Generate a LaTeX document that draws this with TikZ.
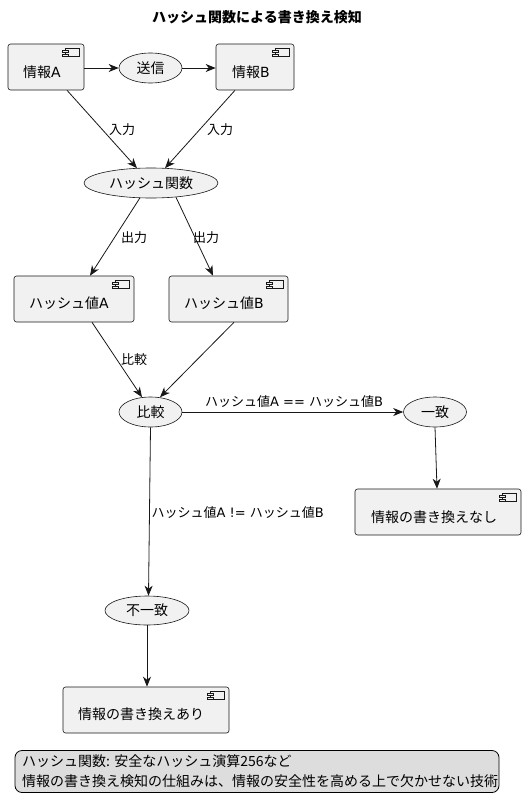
\documentclass[tikz,border=0pt]{standalone}
\usepackage{fontspec}
\setmainfont{DejaVu Sans}
\newfontfamily\jp{Noto Sans CJK JP}
\usetikzlibrary{shapes.geometric,arrows.meta,calc}
\definecolor{nodefill}{HTML}{F1F1F1}
\definecolor{linec}{HTML}{181818}
\definecolor{notefill}{HTML}{DDDDDD}
\tikzset{
  comp/.style={draw=linec,fill=nodefill,rectangle,rounded corners=2.5pt,line width=0.6pt,inner sep=0pt},
  uc/.style={draw=linec,fill=nodefill,ellipse,line width=0.6pt,inner sep=0pt},
  txt/.style={inner sep=0pt,font=\fontsize{14}{16}\selectfont,text=black},
  lbl/.style={inner sep=0pt,font=\fontsize{13}{15}\selectfont,text=black},
  arr/.style={draw=linec,line width=0.8pt,-{Stealth[length=10pt,width=8pt,inset=3pt]}},
}
\newcommand{\compicon}[1]{%
  \draw[linec,fill=nodefill,line width=0.5pt] ($(#1.north east)+(-19,5)$) rectangle ($(#1.north east)+(-5,13)$);
  \draw[linec,fill=nodefill,line width=0.5pt] ($(#1.north east)+(-22,7)$) rectangle ($(#1.north east)+(-16,9)$);
  \draw[linec,fill=nodefill,line width=0.5pt] ($(#1.north east)+(-22,10.5)$) rectangle ($(#1.north east)+(-16,12.5)$);
}
\begin{document}
\begin{tikzpicture}[x=1pt,y=-1pt]
\useasboundingbox[fill=white] (0,0) rectangle (526,811);
% title
\node[inner sep=0pt,font=\jp\bfseries\fontsize{14}{16}\selectfont] (title) at (257,17) {ハッシュ関数による書き換え検知};
% components
\node[comp,minimum width=76pt,minimum height=46pt] (infoA) at (46,67) {};
\node[txt] (infoAt) at (42,72) {{\jp 情報}A};
\node[comp,minimum width=78pt,minimum height=46pt] (infoB) at (255,67) {};
\node[txt] (infoBt) at (251,72) {{\jp 情報}B};
\node[comp,minimum width=120pt,minimum height=46pt] (hashA) at (74,299) {};
\node[txt] (hashAt) at (69,303) {{\jp ハッシュ値}A};
\node[comp,minimum width=119pt,minimum height=46pt] (hashB) at (228.5,299) {};
\node[txt] (hashBt) at (224,303) {{\jp ハッシュ値}B};
\node[comp,minimum width=166pt,minimum height=46pt] (nochg) at (438,512) {};
\node[txt,font=\jp\fontsize{14}{16}\selectfont] (nochgt) at (434,517) {情報の書き換えなし};
\node[comp,minimum width=166pt,minimum height=46pt] (chg) at (146,710) {};
\node[txt,font=\jp\fontsize{14}{16}\selectfont] (chgt) at (141,714) {情報の書き換えあり};
\compicon{infoA}
\compicon{infoB}
\compicon{hashA}
\compicon{hashB}
\compicon{nochg}
\compicon{chg}
% use cases
\node[uc,minimum width=63pt,minimum height=30pt] (send) at (150.5,68) {};
\node[txt,font=\jp\fontsize{14}{16}\selectfont] (sendt) at (150.5,68) {送信};
\node[uc,minimum width=134pt,minimum height=30pt] (hash) at (151,183) {};
\node[txt,font=\jp\fontsize{14}{16}\selectfont] (hasht) at (151,183) {ハッシュ関数};
\node[uc,minimum width=63pt,minimum height=30pt] (cmp) at (150.5,412) {};
\node[txt,font=\jp\fontsize{14}{16}\selectfont] (cmpt) at (150.5,412) {比較};
\node[uc,minimum width=63pt,minimum height=30pt] (match) at (435,412) {};
\node[txt,font=\jp\fontsize{14}{16}\selectfont] (matcht) at (435,412) {一致};
\node[uc,minimum width=84pt,minimum height=29pt] (mism) at (147,610.5) {};
\node[txt,font=\jp\fontsize{14}{16}\selectfont] (mismt) at (147,610.5) {不一致};
% edges
\draw[arr] (infoA.east |- send) -- (send.west);
\draw[arr] (send.east) -- (infoB.west |- send);
\draw[arr] ([xshift=21pt]infoA.south) -- ([xshift=-14pt,yshift=-0.5pt]hash.north);
\draw[arr] ([xshift=-20pt]infoB.south) -- ([xshift=14pt,yshift=-0.5pt]hash.north);
\node[lbl,font=\jp\fontsize{13}{15}\selectfont] (l1) at (122,129.5) {入力};
\node[lbl,font=\jp\fontsize{13}{15}\selectfont] (l2) at (220,129.5) {入力};
\draw[arr] ([xshift=-11pt,yshift=0.5pt]hash.south) -- ([xshift=16pt]hashA.north);
\draw[arr] ([xshift=25pt,yshift=1pt]hash.south) -- ([xshift=-15.5pt]hashB.north);
\node[lbl,font=\jp\fontsize{13}{15}\selectfont] (l3) at (134,238) {出力};
\node[lbl,font=\jp\fontsize{13}{15}\selectfont] (l4) at (206,238) {出力};
\draw[arr] ([xshift=18pt]hashA.south) -- ([xshift=-8.5pt,yshift=-0.5pt]cmp.north);
\draw[arr] ([xshift=5.5pt]hashB.south) -- ([xshift=9.5pt,yshift=-0.5pt]cmp.north);
\node[lbl,font=\jp\fontsize{13}{15}\selectfont] (l5) at (134,360) {比較};
\draw[arr] (cmp.east) -- (match.west);
\node[lbl,anchor=west] (l6) at (205,402) {{\jp ハッシュ値}A == {\jp ハッシュ値}B};
\draw[arr] (match.south) -- ([xshift=-1pt]nochg.north);
\draw[arr] (cmp.south) -- ([xshift=1.5pt]mism.north);
\node[lbl,anchor=west] (l7) at (151.5,513) {{\jp ハッシュ値}A != {\jp ハッシュ値}B};
\draw[arr] (mism.south) -- ([xshift=1pt]chg.north);
% legend
\node[draw=black,fill=notefill,rounded corners=7pt,line width=0.8pt,minimum width=484pt,minimum height=42pt,inner sep=0pt] (legend) at (257,771.5) {};
\node[txt,anchor=west,align=left,font=\jp\fontsize{14}{20}\selectfont] (legendt) at (22,771.5) {ハッシュ関数: 安全なハッシュ演算256など\\情報の書き換え検知の仕組みは、情報の安全性を高める上で欠かせない技術};
\end{tikzpicture}
\end{document}
